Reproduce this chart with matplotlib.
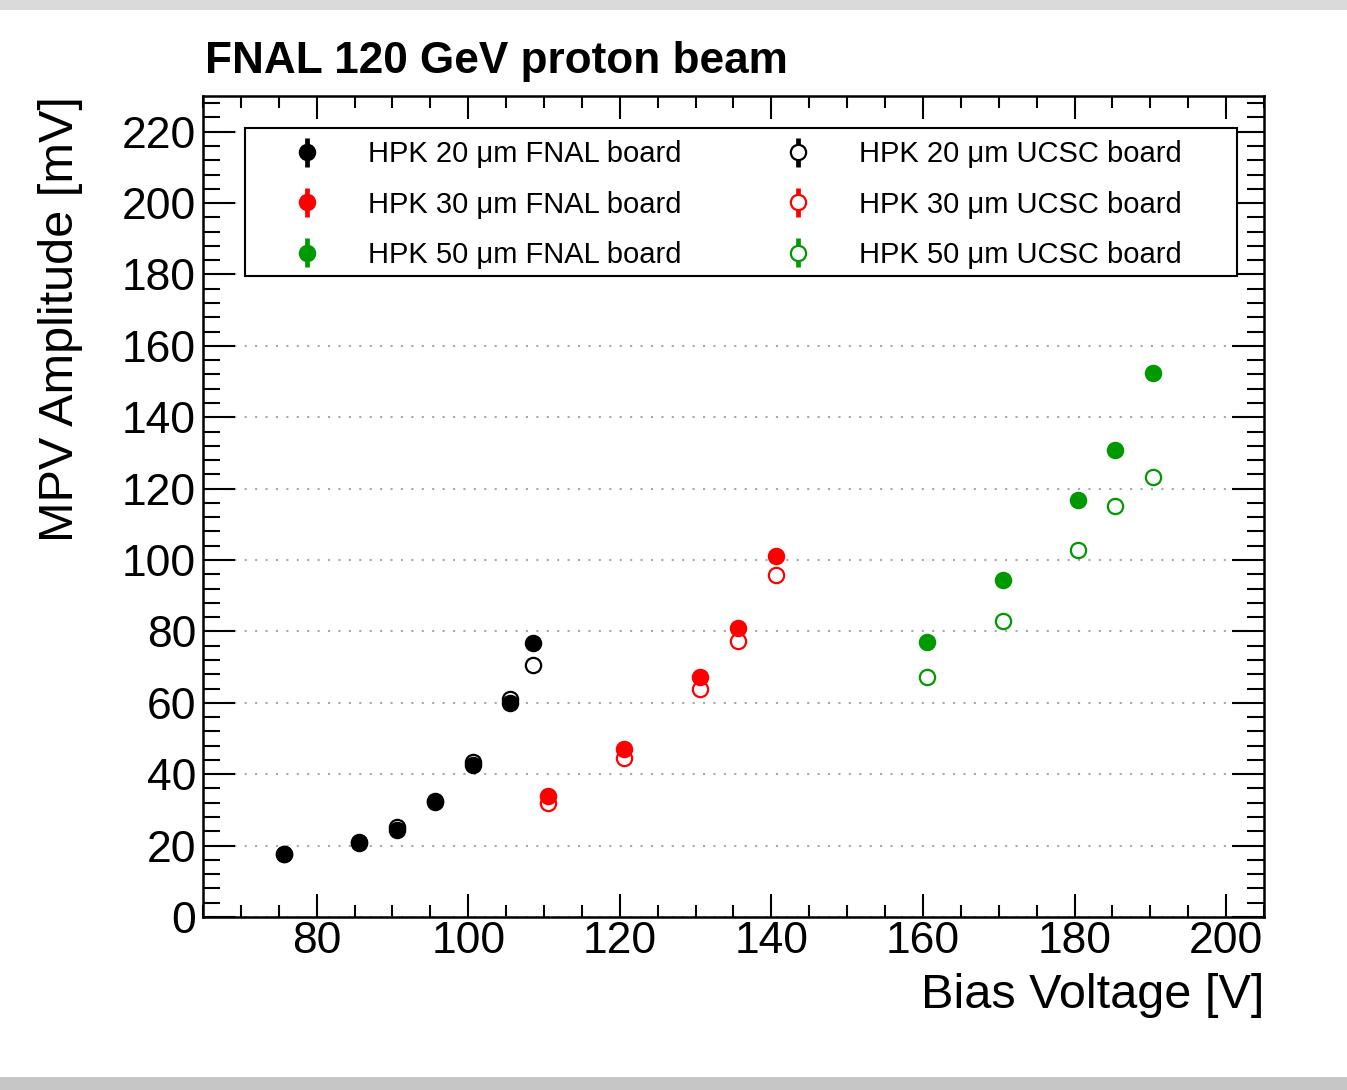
import numpy as np
import matplotlib
matplotlib.use('Agg')
import matplotlib.ticker
import matplotlib.pyplot as plt
from matplotlib.patches import Rectangle

plt.rcParams['font.family'] = ['Liberation Sans', 'DejaVu Sans']

# ----------------------------------------------------
# data
# ----------------------------------------------------
v_20 = [75.7, 85.6, 90.6, 95.6, 100.6, 105.5, 108.5]
fnal_20 = [17.6, 20.7, 24.5, 32.3, 42.5, 60.0, 76.9]
ucsc_20 = [17.7, 20.9, 25.3, 32.4, 43.5, 61.1, 70.7]

v_30 = [110.5, 120.5, 130.6, 135.6, 140.6]
fnal_30 = [33.9, 47.0, 67.1, 81.1, 101.0]
ucsc_30 = [31.8, 44.5, 63.8, 77.2, 95.7]

v_50 = [160.5, 170.5, 180.5, 185.4, 190.4]
fnal_50 = [77.0, 94.3, 116.7, 130.7, 152.3]
ucsc_50 = [67.3, 82.8, 102.7, 115.1, 123.2]

series = [
    ("HPK 20 \u03bcm FNAL board", v_20, fnal_20, 'black', True),
    ("HPK 30 \u03bcm FNAL board", v_30, fnal_30, '#ff0000', True),
    ("HPK 50 \u03bcm FNAL board", v_50, fnal_50, '#009a00', True),
    ("HPK 20 \u03bcm UCSC board", v_20, ucsc_20, 'black', False),
    ("HPK 30 \u03bcm UCSC board", v_30, ucsc_30, '#ff0000', False),
    ("HPK 50 \u03bcm UCSC board", v_50, ucsc_50, '#009a00', False),
]

W, H = 1347, 1090
fig = plt.figure(figsize=(W / 100, H / 100), dpi=100)
fig.patch.set_facecolor('white')
# screenshot border bands
fig.patches.append(Rectangle((0, 1 - 10 / H), 1, 10 / H, transform=fig.transFigure,
                             facecolor='#dadada', edgecolor='none', zorder=-10))
fig.patches.append(Rectangle((0, 0), 1, 13 / H, transform=fig.transFigure,
                             facecolor='#c6c6c6', edgecolor='none', zorder=-10))

L, R, T, B = 203, 1264, 96, 917
AW, AH = R - L, B - T
ax = fig.add_axes([L / W, 1 - B / H, AW / W, AH / H])

handles = {}
# open markers first, filled on top
for label, xs, ys, color, filled in series[3:] + series[:3]:
    h = ax.errorbar(xs, ys, yerr=np.zeros(len(ys)), fmt='o', color=color, ecolor=color,
                    markersize=11, markeredgewidth=1.6,
                    markerfacecolor=color if filled else 'white',
                    markeredgecolor=color, elinewidth=3.4, capsize=0,
                    zorder=4 if filled else 3)
    handles[label] = h

ax.set_xlim(65, 205)
ax.set_ylim(0, 230)

ax.xaxis.set_major_locator(matplotlib.ticker.MultipleLocator(20))
ax.xaxis.set_minor_locator(matplotlib.ticker.MultipleLocator(5))
ax.yaxis.set_major_locator(matplotlib.ticker.MultipleLocator(20))
ax.yaxis.set_minor_locator(matplotlib.ticker.MultipleLocator(4))

ax.tick_params(axis='both', which='both', direction='in', top=True, right=True,
               width=1.5, labelsize=32)
ax.tick_params(axis='x', which='major', length=16.5, pad=3)
ax.tick_params(axis='x', which='minor', length=8.6)
ax.tick_params(axis='y', which='major', length=23, pad=5)
ax.tick_params(axis='y', which='minor', length=12)
for s in ax.spines.values():
    s.set_linewidth(1.8)

ax.grid(True, axis='y', which='major', color='#a8a8a8', linestyle=(0, (1, 4)),
        linewidth=1.5, zorder=1)
ax.set_axisbelow(True)

ax.set_xlabel("Bias Voltage [V]", fontsize=35, loc='right', va='baseline')
ax.xaxis.set_label_coords(1.0, -(1008 - B) / AH)
ax.set_ylabel("MPV Amplitude [mV]", fontsize=35, loc='top')
ax.yaxis.set_label_coords(-(L - 83) / AW, 1.0)

fig.text(205 / W, 1 - 73 / H, "FNAL 120 GeV proton beam", fontsize=31.8,
         fontweight='bold', va='baseline', ha='left')

# legend box
ax.add_patch(Rectangle(((245 - L) / AW, (B - 276) / AH), (1237 - 245) / AW, (276 - 128) / AH,
                       transform=ax.transAxes, facecolor='white', edgecolor='black',
                       linewidth=1.5, zorder=5))

labels = [s[0] for s in series]
leg = ax.legend([handles[l] for l in labels], labels, ncol=2, loc='upper left',
                bbox_to_anchor=((278 - L) / AW, (B - 140.5) / AH),
                fontsize=21, frameon=False, borderpad=0, borderaxespad=0,
                labelspacing=0.76, handlelength=2.0, handletextpad=1.1,
                columnspacing=2.98, numpoints=1)
leg.set_zorder(6)

fig.savefig("out.png", dpi=100)
